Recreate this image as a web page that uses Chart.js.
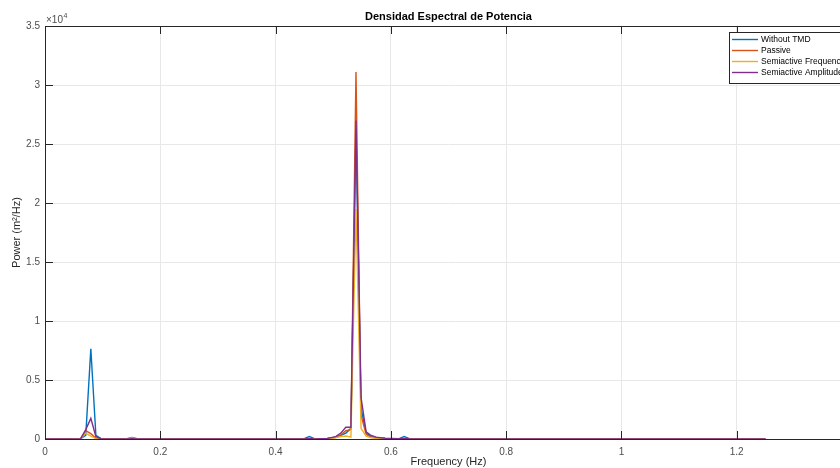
<!DOCTYPE html>
<html>
<head>
<meta charset="utf-8">
<script src="https://cdn.jsdelivr.net/npm/chart.js@4.4.1/dist/chart.umd.min.js"></script>
<style>
html,body{margin:0;padding:0;background:#fff;overflow:hidden;width:840px;height:468px;}
#wrap{position:absolute;left:0;top:0;width:880px;height:468px;}
</style>
</head>
<body>
<div id="wrap"><canvas id="c" width="880" height="468"></canvas></div>
<script>
const freq = [0, 0.04, 0.0619, 0.0707, 0.0795, 0.0883, 0.0971, 0.12, 0.1422, 0.151, 0.1598, 0.3, 0.4, 0.4498, 0.4586, 0.4674, 0.49, 0.5043, 0.5131, 0.5219, 0.5307, 0.5395, 0.5483, 0.5571, 0.5659, 0.5747, 0.59, 0.6143, 0.6231, 0.6319, 0.65, 0.8, 1.0, 1.25];
const withoutTMD = [0, 10, 30, 300, 7650, 300, 30, 10, 20, 120, 20, 5, 5, 30, 220, 30, 50, 150, 300, 500, 900, 26300, 2600, 500, 200, 100, 50, 30, 220, 30, 15, 5, 3, 2];
const passive = [0, 10, 40, 700, 450, 60, 20, 10, 10, 30, 10, 5, 5, 10, 40, 10, 40, 150, 350, 700, 800, 31100, 2000, 400, 150, 80, 40, 20, 40, 20, 10, 5, 3, 2];
const semiFreq = [0, 10, 40, 500, 250, 30, 10, 10, 20, 80, 20, 5, 5, 10, 30, 10, 30, 100, 200, 250, 150, 19500, 900, 250, 100, 60, 30, 15, 30, 15, 8, 4, 2, 2];
const semiAmp = [0, 10, 30, 800, 1750, 200, 20, 10, 10, 30, 10, 5, 5, 10, 40, 10, 50, 200, 500, 1000, 1000, 27000, 3500, 600, 300, 150, 60, 25, 40, 20, 10, 5, 3, 2];
const seriesLabels = ["Without TMD", "Passive", "Semiactive Frequency", "Semiactive Amplitude"];
const seriesColors = ["#0072BD", "#D95319", "#EDB120", "#7E2F8E"];
const xTicks = [0, 0.2, 0.4, 0.6, 0.8, 1, 1.2, 1.4];

const FONT = '"Liberation Sans", Arial, Helvetica, sans-serif';
const values = [withoutTMD, passive, semiFreq, semiAmp];

const datasets = values.map((v, i) => ({
  label: seriesLabels[i],
  data: freq.map((f, k) => ({x: f, y: v[k]})),
  borderColor: seriesColors[i],
  backgroundColor: seriesColors[i],
  borderWidth: 1.4,
  pointRadius: 0,
  tension: 0,
  fill: false,
  order: values.length - i
}));

const decor = {
  id: 'decor',
  afterDraw(chart) {
    const ctx = chart.ctx;
    const a = chart.chartArea;
    const xs = chart.scales.x, ys = chart.scales.y;
    ctx.save();
    // box
    ctx.strokeStyle = '#262626';
    ctx.lineWidth = 1;
    ctx.beginPath();
    ctx.rect(Math.round(a.left) + 0.5, Math.round(a.top) + 0.5, Math.round(a.right - a.left), Math.round(a.bottom - a.top));
    ctx.stroke();
    // inward ticks
    const tl = 8;
    ctx.beginPath();
    xTicks.forEach(t => {
      const px = Math.round(xs.getPixelForValue(t)) + 0.5;
      ctx.moveTo(px, a.bottom); ctx.lineTo(px, a.bottom - tl);
      ctx.moveTo(px, a.top); ctx.lineTo(px, a.top + tl);
    });
    for (let v = 0; v <= 35000; v += 5000) {
      const py = Math.round(ys.getPixelForValue(v)) + 0.5;
      ctx.moveTo(a.left, py); ctx.lineTo(a.left + tl, py);
      ctx.moveTo(a.right, py); ctx.lineTo(a.right - tl, py);
    }
    ctx.stroke();
    // title
    ctx.fillStyle = '#000';
    ctx.font = 'bold 11px ' + FONT;
    ctx.textAlign = 'center';
    ctx.textBaseline = 'middle';
    ctx.fillText('Densidad Espectral de Potencia', (a.left + a.right) / 2, 17);
    // axis titles
    ctx.fillStyle = '#262626';
    ctx.font = '11px ' + FONT;
    ctx.fillText('Frequency (Hz)', (a.left + a.right) / 2, 462);
    ctx.save();
    ctx.translate(17, (a.top + a.bottom) / 2);
    ctx.rotate(-Math.PI / 2);
    ctx.fillText('Power (m\u00B2/Hz)', 0, 0);
    ctx.restore();
    // exponent
    ctx.fillStyle = '#4d4d4d';
    ctx.textAlign = 'left';
    ctx.textBaseline = 'alphabetic';
    ctx.font = '10px ' + FONT;
    ctx.fillText('\u00D710', a.left + 1, 23);
    const w = ctx.measureText('\u00D710').width;
    ctx.font = '7px ' + FONT;
    ctx.fillText('4', a.left + 1 + w + 0.5, 18);
    // legend
    const lx = 729, ly = 32, lw = 150, lh = 51;
    ctx.fillStyle = '#fff';
    ctx.fillRect(lx, ly, lw, lh);
    ctx.strokeStyle = '#262626';
    ctx.lineWidth = 1;
    ctx.strokeRect(lx + 0.5, ly + 0.5, lw, lh);
    ctx.font = '8.5px ' + FONT;
    ctx.textBaseline = 'middle';
    chart.data.datasets.forEach((ds, i) => {
      const yy = 39.5 + i * 11;
      ctx.strokeStyle = ds.borderColor;
      ctx.lineWidth = 1.4;
      ctx.beginPath();
      ctx.moveTo(732, yy); ctx.lineTo(758, yy);
      ctx.stroke();
      ctx.fillStyle = '#000';
      ctx.fillText(ds.label, 761, yy);
    });
    ctx.restore();
  }
};

new Chart(document.getElementById('c'), {
  type: 'line',
  data: {datasets},
  options: {
    responsive: false,
    animation: false,
    events: [],
    layout: {padding: {top: 26, right: 28, left: 0, bottom: 0}},
    plugins: {legend: {display: false}, title: {display: false}, tooltip: {enabled: false}},
    scales: {
      x: {
        type: 'linear', min: 0, max: 1.4,
        afterFit(s) { s.height = 29; },
        afterBuildTicks(s) { s.ticks = xTicks.map(v => ({value: v})); },
        border: {display: false},
        grid: {color: '#e8e8e8', lineWidth: 1, drawTicks: false},
        ticks: {
          padding: 7, color: '#4d4d4d', maxRotation: 0, autoSkip: false,
          font: {family: FONT, size: 10},
          callback: v => String(Number(v.toFixed(1)))
        }
      },
      y: {
        type: 'linear', min: 0, max: 35000,
        afterFit(s) { s.width = 45; },
        border: {display: false},
        grid: {color: '#e8e8e8', lineWidth: 1, drawTicks: false},
        ticks: {
          stepSize: 5000, padding: 5, color: '#4d4d4d',
          font: {family: FONT, size: 10},
          callback: v => String(Number((v / 10000).toFixed(1)))
        }
      }
    }
  },
  plugins: [decor]
});
</script>
</body>
</html>
